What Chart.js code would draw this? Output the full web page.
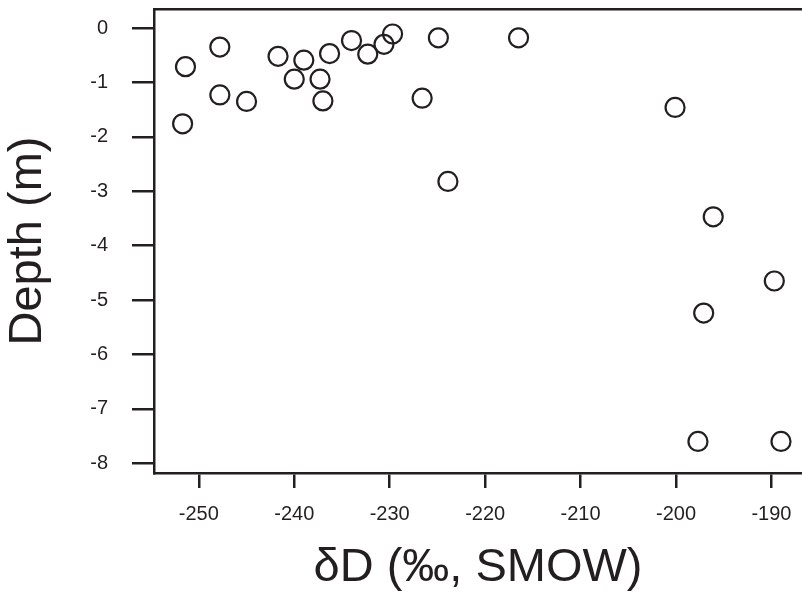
<!DOCTYPE html>
<html>
<head>
<meta charset="utf-8">
<script src="https://cdn.jsdelivr.net/npm/chart.js@4"></script>
<style>
    html, body { margin: 0; padding: 0; background: #fff; }
    #wrap { width: 802px; height: 594px; }
</style>
</head>
<body>
<div id="wrap"><canvas id="depthChart"></canvas></div>
<script>
// dD (per mil, SMOW) against sample depth (m)
const deltaD = [
    -251.4, -251.7, -247.8, -247.8, -245.0, -241.7, -240.0, -239.0, -237.3,
    -237.0, -236.3, -234.0, -232.3, -230.6, -229.7, -224.9, -216.5, -226.6,
    -200.1, -223.9, -196.1, -189.7, -197.1, -197.7, -189.0
];
const depth = [
    -0.71, -1.76, -0.35, -1.23, -1.35, -0.52, -0.94, -0.59, -0.94,
    -1.34, -0.47, -0.23, -0.48, -0.30, -0.11, -0.18, -0.18, -1.29,
    -1.46, -2.82, -3.47, -4.65, -5.24, -7.60, -7.60
];
const xRange = [-254.7, -186.8];
const yRange = [-8.18, 0.35];

const points = deltaD.map((d, i) => ({ x: d, y: depth[i] }));

const ink = '#231f20';
const fontFamily = "'Liberation Sans', Arial, Helvetica, sans-serif";

new Chart(document.getElementById('depthChart'), {
    type: 'scatter',
    data: {
        datasets: [{
            data: points,
            pointRadius: 9.5,
            pointBorderWidth: 2.2,
            pointBorderColor: ink,
            pointBackgroundColor: 'rgba(0,0,0,0)',
            clip: false
        }]
    },
    options: {
        responsive: true,
        maintainAspectRatio: false,
        animation: false,
        layout: { autoPadding: false, padding: { top: 9, left: 0, right: 0, bottom: 0 } },
        plugins: {
            legend: { display: false },
            tooltip: { enabled: false }
        },
        scales: {
            x: {
                type: 'linear',
                position: 'bottom',
                min: xRange[0],
                max: xRange[1],
                grid: { drawOnChartArea: false, tickLength: 15, color: ink, lineWidth: 2.5 },
                border: { display: true, color: ink, width: 2.5 },
                ticks: {
                    stepSize: 10,
                    includeBounds: false,
                    padding: 14,
                    color: ink,
                    font: { family: fontFamily, size: 20 }
                },
                title: {
                    display: true,
                    text: 'δD (‰, SMOW)',
                    color: ink,
                    padding: 0,
                    font: { family: fontFamily, size: 47, lineHeight: 1.1 }
                },
                afterFit: s => { s.height = 121; s.paddingLeft = 0; s.paddingRight = 0; }
            },
            top: {
                type: 'linear',
                position: 'top',
                min: xRange[0],
                max: xRange[1],
                grid: { display: false },
                border: { display: true, color: ink, width: 2.5 },
                ticks: { display: false },
                afterFit: s => { s.height = 0; s.paddingLeft = 0; s.paddingRight = 0; }
            },
            y: {
                type: 'linear',
                min: yRange[0],
                max: yRange[1],
                grid: { drawOnChartArea: false, tickLength: 22, color: ink, lineWidth: 2.5 },
                border: { display: true, color: ink, width: 2.5 },
                ticks: {
                    stepSize: 1,
                    includeBounds: false,
                    padding: 24,
                    color: ink,
                    font: { family: fontFamily, size: 20 }
                },
                title: {
                    display: true,
                    text: 'Depth (m)',
                    color: ink,
                    padding: 0,
                    font: { family: fontFamily, size: 47, lineHeight: 1.2 }
                },
                afterFit: s => { s.width = 154; s.paddingTop = 0; s.paddingBottom = 0; }
            }
        }
    }
});
</script>
</body>
</html>
